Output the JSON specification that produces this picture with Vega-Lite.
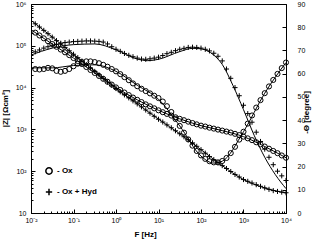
{
"$schema":"https://vega.github.io/schema/vega-lite/v6.json",
"width":255,"height":209,
"autosize":{"type":"none"},
"padding":{"left":31,"top":4,"right":26,"bottom":27},
"background":"white",
"config":{
 "view":{"stroke":"black","strokeWidth":1},
 "font":"Liberation Sans",
 "axis":{"grid":false,"domainColor":"black","domainWidth":1,"tickColor":"black","tickWidth":1,"tickSize":-4,"labelColor":"black","labelFont":"Liberation Sans","labelFontSize":7,"labelOverlap":false,"labelFlush":false,"titleFont":"Liberation Sans","titleFontSize":8,"titleFontWeight":"bold","titleColor":"black"}
},
"datasets":{
"zmark":[
{"g":"- Ox + Hyd","f":0.0126,"z":336000},{"g":"- Ox + Hyd","f":0.0158,"z":281000},{"g":"- Ox + Hyd","f":0.02,"z":234000},{"g":"- Ox + Hyd","f":0.0251,"z":195000},{"g":"- Ox + Hyd","f":0.0316,"z":161000},{"g":"- Ox + Hyd","f":0.0398,"z":133000},{"g":"- Ox + Hyd","f":0.0501,"z":110000},{"g":"- Ox + Hyd","f":0.0631,"z":91400},{"g":"- Ox + Hyd","f":0.0794,"z":75900},{"g":"- Ox + Hyd","f":0.1,"z":62800},
{"g":"- Ox + Hyd","f":0.126,"z":52000},{"g":"- Ox + Hyd","f":0.158,"z":43100},{"g":"- Ox + Hyd","f":0.2,"z":35600},{"g":"- Ox + Hyd","f":0.251,"z":29500},{"g":"- Ox + Hyd","f":0.316,"z":24400},{"g":"- Ox + Hyd","f":0.398,"z":20200},{"g":"- Ox + Hyd","f":0.501,"z":16600},{"g":"- Ox + Hyd","f":0.631,"z":13600},{"g":"- Ox + Hyd","f":0.794,"z":11400},{"g":"- Ox + Hyd","f":1,"z":9500},
{"g":"- Ox + Hyd","f":1.26,"z":7930},{"g":"- Ox + Hyd","f":1.58,"z":6700},{"g":"- Ox + Hyd","f":2,"z":5680},{"g":"- Ox + Hyd","f":2.51,"z":4810},{"g":"- Ox + Hyd","f":3.16,"z":4080},{"g":"- Ox + Hyd","f":3.98,"z":3460},{"g":"- Ox + Hyd","f":5.01,"z":2910},{"g":"- Ox + Hyd","f":6.31,"z":2450},{"g":"- Ox + Hyd","f":7.94,"z":2060},{"g":"- Ox + Hyd","f":10,"z":1750},
{"g":"- Ox + Hyd","f":12.6,"z":1500},{"g":"- Ox + Hyd","f":15.8,"z":1280},{"g":"- Ox + Hyd","f":20,"z":1094},{"g":"- Ox + Hyd","f":25.1,"z":927},{"g":"- Ox + Hyd","f":31.6,"z":787},{"g":"- Ox + Hyd","f":39.8,"z":667},{"g":"- Ox + Hyd","f":50.1,"z":566},{"g":"- Ox + Hyd","f":63.1,"z":476},{"g":"- Ox + Hyd","f":79.4,"z":394},{"g":"- Ox + Hyd","f":100,"z":327},
{"g":"- Ox + Hyd","f":126,"z":270},{"g":"- Ox + Hyd","f":158,"z":224},{"g":"- Ox + Hyd","f":200,"z":189},{"g":"- Ox + Hyd","f":251,"z":160},{"g":"- Ox + Hyd","f":316,"z":136},{"g":"- Ox + Hyd","f":398,"z":116},{"g":"- Ox + Hyd","f":501,"z":98.2},{"g":"- Ox + Hyd","f":631,"z":83.6},{"g":"- Ox + Hyd","f":794,"z":72.6},{"g":"- Ox + Hyd","f":1000,"z":63.1},
{"g":"- Ox + Hyd","f":1259,"z":57.3},{"g":"- Ox + Hyd","f":1585,"z":52.2},{"g":"- Ox + Hyd","f":1995,"z":47.6},{"g":"- Ox + Hyd","f":2512,"z":43.5},{"g":"- Ox + Hyd","f":3162,"z":39.8},{"g":"- Ox + Hyd","f":3981,"z":36.8},{"g":"- Ox + Hyd","f":5012,"z":34.3},{"g":"- Ox + Hyd","f":6310,"z":32.8},{"g":"- Ox + Hyd","f":7943,"z":31.6},{"g":"- Ox + Hyd","f":10000,"z":30.5},
{"g":"- Ox","f":0.0126,"z":206500},{"g":"- Ox","f":0.0158,"z":176600},{"g":"- Ox","f":0.02,"z":151000},{"g":"- Ox","f":0.0251,"z":129100},{"g":"- Ox","f":0.0316,"z":110400},{"g":"- Ox","f":0.0398,"z":94800},{"g":"- Ox","f":0.0501,"z":81300},{"g":"- Ox","f":0.0631,"z":69800},{"g":"- Ox","f":0.0794,"z":59800},{"g":"- Ox","f":0.1,"z":51000},
{"g":"- Ox","f":0.126,"z":43300},{"g":"- Ox","f":0.158,"z":36700},{"g":"- Ox","f":0.2,"z":31100},{"g":"- Ox","f":0.251,"z":26400},{"g":"- Ox","f":0.316,"z":22400},{"g":"- Ox","f":0.398,"z":19000},{"g":"- Ox","f":0.501,"z":16200},{"g":"- Ox","f":0.631,"z":13800},{"g":"- Ox","f":0.794,"z":11800},{"g":"- Ox","f":1,"z":10100},
{"g":"- Ox","f":1.26,"z":8780},{"g":"- Ox","f":1.58,"z":7620},{"g":"- Ox","f":2,"z":6610},{"g":"- Ox","f":2.51,"z":5780},{"g":"- Ox","f":3.16,"z":5100},{"g":"- Ox","f":3.98,"z":4500},{"g":"- Ox","f":5.01,"z":3970},{"g":"- Ox","f":6.31,"z":3560},{"g":"- Ox","f":7.94,"z":3190},{"g":"- Ox","f":10,"z":2860},
{"g":"- Ox","f":12.6,"z":2580},{"g":"- Ox","f":15.8,"z":2350},{"g":"- Ox","f":20,"z":2140},{"g":"- Ox","f":25.1,"z":1950},{"g":"- Ox","f":31.6,"z":1790},{"g":"- Ox","f":39.8,"z":1660},{"g":"- Ox","f":50.1,"z":1530},{"g":"- Ox","f":63.1,"z":1420},{"g":"- Ox","f":79.4,"z":1320},{"g":"- Ox","f":100,"z":1230},
{"g":"- Ox","f":126,"z":1170},{"g":"- Ox","f":158,"z":1100},{"g":"- Ox","f":200,"z":1045},{"g":"- Ox","f":251,"z":989},{"g":"- Ox","f":316,"z":937},{"g":"- Ox","f":398,"z":887},{"g":"- Ox","f":501,"z":841},{"g":"- Ox","f":631,"z":784},{"g":"- Ox","f":794,"z":731},{"g":"- Ox","f":1000,"z":671},
{"g":"- Ox","f":1259,"z":611},{"g":"- Ox","f":1585,"z":553},{"g":"- Ox","f":1995,"z":492},{"g":"- Ox","f":2512,"z":438},{"g":"- Ox","f":3162,"z":389},{"g":"- Ox","f":3981,"z":345},{"g":"- Ox","f":5012,"z":305},{"g":"- Ox","f":6310,"z":270},{"g":"- Ox","f":7943,"z":238},{"g":"- Ox","f":10000,"z":210}
],
"zfit":[
{"g":"- Ox + Hyd","f":0.01,"z":407000},{"g":"- Ox + Hyd","f":0.0316,"z":162000},{"g":"- Ox + Hyd","f":0.1,"z":63100},{"g":"- Ox + Hyd","f":0.316,"z":24500},{"g":"- Ox + Hyd","f":1,"z":9550},{"g":"- Ox + Hyd","f":3.16,"z":4070},{"g":"- Ox + Hyd","f":10,"z":1760},{"g":"- Ox + Hyd","f":31.6,"z":785},{"g":"- Ox + Hyd","f":100,"z":327},{"g":"- Ox + Hyd","f":316,"z":136},{"g":"- Ox + Hyd","f":1000,"z":63.1},{"g":"- Ox + Hyd","f":3162,"z":39.8},{"g":"- Ox + Hyd","f":10000,"z":30.2},
{"g":"- Ox","f":0.01,"z":243000},{"g":"- Ox","f":0.0316,"z":110000},{"g":"- Ox","f":0.1,"z":51000},{"g":"- Ox","f":0.316,"z":22400},{"g":"- Ox","f":1,"z":10100},{"g":"- Ox","f":3.16,"z":5100},{"g":"- Ox","f":10,"z":2860},{"g":"- Ox","f":31.6,"z":1790},{"g":"- Ox","f":100,"z":1230},{"g":"- Ox","f":316,"z":937},{"g":"- Ox","f":1000,"z":671},{"g":"- Ox","f":3162,"z":389},{"g":"- Ox","f":10000,"z":210}
],
"pmark":[
{"g":"- Ox + Hyd","f":0.0126,"p":69.4},{"g":"- Ox + Hyd","f":0.0158,"p":70.2},{"g":"- Ox + Hyd","f":0.02,"p":71.0},{"g":"- Ox + Hyd","f":0.0251,"p":71.6},{"g":"- Ox + Hyd","f":0.0316,"p":72.2},{"g":"- Ox + Hyd","f":0.0398,"p":72.7},{"g":"- Ox + Hyd","f":0.0501,"p":73.1},{"g":"- Ox + Hyd","f":0.0631,"p":73.4},{"g":"- Ox + Hyd","f":0.0794,"p":73.6},{"g":"- Ox + Hyd","f":0.1,"p":73.8},
{"g":"- Ox + Hyd","f":0.126,"p":73.9},{"g":"- Ox + Hyd","f":0.158,"p":74.0},{"g":"- Ox + Hyd","f":0.2,"p":74.1},{"g":"- Ox + Hyd","f":0.251,"p":74.1},{"g":"- Ox + Hyd","f":0.316,"p":74.0},{"g":"- Ox + Hyd","f":0.398,"p":73.9},{"g":"- Ox + Hyd","f":0.501,"p":73.6},{"g":"- Ox + Hyd","f":0.631,"p":72.8},{"g":"- Ox + Hyd","f":0.794,"p":71.6},{"g":"- Ox + Hyd","f":1,"p":70.5},
{"g":"- Ox + Hyd","f":1.26,"p":69.6},{"g":"- Ox + Hyd","f":1.58,"p":68.7},{"g":"- Ox + Hyd","f":2,"p":67.9},{"g":"- Ox + Hyd","f":2.51,"p":67.3},{"g":"- Ox + Hyd","f":3.16,"p":66.7},{"g":"- Ox + Hyd","f":3.98,"p":66.3},{"g":"- Ox + Hyd","f":5.01,"p":66.2},{"g":"- Ox + Hyd","f":6.31,"p":66.4},{"g":"- Ox + Hyd","f":7.94,"p":66.7},{"g":"- Ox + Hyd","f":10,"p":67.1},
{"g":"- Ox + Hyd","f":12.6,"p":67.8},{"g":"- Ox + Hyd","f":15.8,"p":68.6},{"g":"- Ox + Hyd","f":20,"p":69.2},{"g":"- Ox + Hyd","f":25.1,"p":69.9},{"g":"- Ox + Hyd","f":31.6,"p":70.5},{"g":"- Ox + Hyd","f":39.8,"p":70.9},{"g":"- Ox + Hyd","f":50.1,"p":71.3},{"g":"- Ox + Hyd","f":63.1,"p":71.4},{"g":"- Ox + Hyd","f":79.4,"p":71.3},{"g":"- Ox + Hyd","f":100,"p":71.0},
{"g":"- Ox + Hyd","f":126,"p":70.5},{"g":"- Ox + Hyd","f":158,"p":69.8},{"g":"- Ox + Hyd","f":200,"p":68.8},{"g":"- Ox + Hyd","f":251,"p":67.5},{"g":"- Ox + Hyd","f":316,"p":65.5},{"g":"- Ox + Hyd","f":398,"p":62.0},{"g":"- Ox + Hyd","f":501,"p":58.0},{"g":"- Ox + Hyd","f":631,"p":54.0},{"g":"- Ox + Hyd","f":794,"p":50.5},{"g":"- Ox + Hyd","f":1000,"p":46.4},
{"g":"- Ox + Hyd","f":1259,"p":42.8},{"g":"- Ox + Hyd","f":1585,"p":39.1},{"g":"- Ox + Hyd","f":1995,"p":34.8},{"g":"- Ox + Hyd","f":2512,"p":30.8},{"g":"- Ox + Hyd","f":3162,"p":27.5},{"g":"- Ox + Hyd","f":3981,"p":24.0},{"g":"- Ox + Hyd","f":5012,"p":20.8},{"g":"- Ox + Hyd","f":6310,"p":18.0},{"g":"- Ox + Hyd","f":7943,"p":16.0},{"g":"- Ox + Hyd","f":10000,"p":14.0},
{"g":"- Ox","f":0.0126,"p":62.0},{"g":"- Ox","f":0.0158,"p":61.8},{"g":"- Ox","f":0.02,"p":62.0},{"g":"- Ox","f":0.0251,"p":62.5},{"g":"- Ox","f":0.0316,"p":62.3},{"g":"- Ox","f":0.0398,"p":61.2},{"g":"- Ox","f":0.0501,"p":60.8},{"g":"- Ox","f":0.0631,"p":61.2},{"g":"- Ox","f":0.0794,"p":62.0},{"g":"- Ox","f":0.1,"p":63.2},
{"g":"- Ox","f":0.126,"p":64.3},{"g":"- Ox","f":0.158,"p":65.0},{"g":"- Ox","f":0.2,"p":65.3},{"g":"- Ox","f":0.251,"p":65.3},{"g":"- Ox","f":0.316,"p":65.0},{"g":"- Ox","f":0.398,"p":64.5},{"g":"- Ox","f":0.501,"p":63.8},{"g":"- Ox","f":0.631,"p":63.0},{"g":"- Ox","f":0.794,"p":62.0},{"g":"- Ox","f":1,"p":61.0},
{"g":"- Ox","f":1.26,"p":59.8},{"g":"- Ox","f":1.58,"p":58.5},{"g":"- Ox","f":2,"p":57.2},{"g":"- Ox","f":2.51,"p":55.8},{"g":"- Ox","f":3.16,"p":54.6},{"g":"- Ox","f":3.98,"p":53.5},{"g":"- Ox","f":5.01,"p":52.5},{"g":"- Ox","f":6.31,"p":51.5},{"g":"- Ox","f":7.94,"p":50.5},{"g":"- Ox","f":10,"p":49.5},
{"g":"- Ox","f":12.6,"p":48.0},{"g":"- Ox","f":15.8,"p":46.0},{"g":"- Ox","f":20,"p":43.5},{"g":"- Ox","f":25.1,"p":40.5},{"g":"- Ox","f":31.6,"p":37.5},{"g":"- Ox","f":39.8,"p":34.6},{"g":"- Ox","f":50.1,"p":31.7},{"g":"- Ox","f":63.1,"p":29.0},{"g":"- Ox","f":79.4,"p":26.7},{"g":"- Ox","f":100,"p":24.8},
{"g":"- Ox","f":126,"p":23.3},{"g":"- Ox","f":158,"p":22.3},{"g":"- Ox","f":200,"p":21.8},{"g":"- Ox","f":251,"p":21.8},{"g":"- Ox","f":316,"p":22.4},{"g":"- Ox","f":398,"p":23.7},{"g":"- Ox","f":501,"p":25.8},{"g":"- Ox","f":631,"p":28.5},{"g":"- Ox","f":794,"p":31.6},{"g":"- Ox","f":1000,"p":35.0},
{"g":"- Ox","f":1259,"p":38.5},{"g":"- Ox","f":1585,"p":42.0},{"g":"- Ox","f":1995,"p":45.4},{"g":"- Ox","f":2512,"p":48.6},{"g":"- Ox","f":3162,"p":51.6},{"g":"- Ox","f":3981,"p":54.5},{"g":"- Ox","f":5012,"p":57.3},{"g":"- Ox","f":6310,"p":59.9},{"g":"- Ox","f":7943,"p":62.4},{"g":"- Ox","f":10000,"p":64.8}
],
"pfit":[
{"g":"- Ox + Hyd","f":0.01,"p":68.0},{"g":"- Ox + Hyd","f":0.0316,"p":71.0},{"g":"- Ox + Hyd","f":0.1,"p":72.5},{"g":"- Ox + Hyd","f":0.316,"p":72.8},{"g":"- Ox + Hyd","f":1,"p":70.3},{"g":"- Ox + Hyd","f":3.16,"p":66.3},{"g":"- Ox + Hyd","f":5.62,"p":65.6},{"g":"- Ox + Hyd","f":10,"p":66.2},{"g":"- Ox + Hyd","f":31.6,"p":69.5},{"g":"- Ox + Hyd","f":63.1,"p":70.9},{"g":"- Ox + Hyd","f":100,"p":70.7},{"g":"- Ox + Hyd","f":200,"p":68.0},{"g":"- Ox + Hyd","f":316,"p":64.0},{"g":"- Ox + Hyd","f":562,"p":55.0},{"g":"- Ox + Hyd","f":1000,"p":44.5},{"g":"- Ox + Hyd","f":1778,"p":33.5},{"g":"- Ox + Hyd","f":3162,"p":24.0},{"g":"- Ox + Hyd","f":5623,"p":16.5},{"g":"- Ox + Hyd","f":10000,"p":10.5},
{"g":"- Ox","f":0.01,"p":62.5},{"g":"- Ox","f":0.0316,"p":62.5},{"g":"- Ox","f":0.1,"p":63.5},{"g":"- Ox","f":0.316,"p":63.8},{"g":"- Ox","f":1,"p":61.0},{"g":"- Ox","f":3.16,"p":55.0},{"g":"- Ox","f":10,"p":49.0},{"g":"- Ox","f":31.6,"p":37.5},{"g":"- Ox","f":100,"p":24.5},{"g":"- Ox","f":200,"p":21.5},{"g":"- Ox","f":316,"p":22.3},{"g":"- Ox","f":1000,"p":35.0},{"g":"- Ox","f":3162,"p":51.6},{"g":"- Ox","f":10000,"p":64.8}
]
},
"encoding":{
  "x":{"field":"f","type":"quantitative","scale":{"type":"log","domain":[0.01,10000],"nice":false},
   "axis":{"title":"F [Hz]","titleX":114,"titleY":21,"titleAlign":"center","titleBaseline":"middle","labelPadding":7,
    "values":[0.01,0.02,0.03,0.04,0.05,0.06,0.07,0.08,0.09,0.1,0.2,0.3,0.4,0.5,0.6,0.7,0.8,0.9,1,2,3,4,5,6,7,8,9,10,20,30,40,50,60,70,80,90,100,200,300,400,500,600,700,800,900,1000,2000,3000,4000,5000,6000,7000,8000,9000,10000],
    "labelExpr":"datum.value==0.01?'10⁻²':datum.value==0.1?'10⁻¹':datum.value==1?'10⁰':datum.value==10?'10¹':datum.value==100?'10²':datum.value==1000?'10³':datum.value==10000?'10⁴':''",
    "tickDash":{"condition":{"test":"indexof([0.01,0.1,1,10,100,1000,10000], datum.value) < 0","value":[2,10]},"value":[4,0]}}}
},
"layer":[
{"encoding":{
  "y":{"field":"z","type":"quantitative","scale":{"type":"log","domain":[10,1000000],"nice":false},
   "axis":{"orient":"left","title":"|Z| [Ωcm²]","titleX":-26,"titleY":104,"titleAngle":270,"titleAlign":"center","titleBaseline":"middle","labelPadding":9,
    "values":[10,20,30,40,50,60,70,80,90,100,200,300,400,500,600,700,800,900,1000,2000,3000,4000,5000,6000,7000,8000,9000,10000,20000,30000,40000,50000,60000,70000,80000,90000,100000,200000,300000,400000,500000,600000,700000,800000,900000,1000000],
    "labelExpr":"datum.value==10?'10':datum.value==100?'10²':datum.value==1000?'10³':datum.value==10000?'10⁴':datum.value==100000?'10⁵':datum.value==1000000?'10⁶':''",
    "tickDash":{"condition":{"test":"indexof([10,100,1000,10000,100000,1000000], datum.value) < 0","value":[2,10]},"value":[4,0]}}}
 },
 "layer":[
  {"data":{"name":"zmark"},"mark":{"type":"point","filled":false,"stroke":"black","strokeWidth":1,"opacity":1,"size":26},
   "encoding":{"shape":{"field":"g","type":"nominal","scale":{"domain":["- Ox","- Ox + Hyd"],"range":["circle","M-1,0H1M0,-1V1"]},
     "legend":{"orient":"none","legendX":14,"legendY":163,"title":null,"padding":0,"labelFont":"Liberation Sans","labelFontSize":8,"labelFontWeight":"bold","labelColor":"black","symbolStrokeColor":"black","symbolStrokeWidth":1.5,"symbolSize":40,"rowPadding":7,"labelOffset":4}}}},
  {"data":{"name":"zfit"},"mark":{"type":"line","color":"black","strokeWidth":1,"interpolate":"monotone"},"encoding":{"detail":{"field":"g"}}}
 ]},
{"encoding":{
  "y":{"field":"p","type":"quantitative","scale":{"domain":[0,90],"nice":false},
   "axis":{"orient":"right","title":"-Θ [degree]","titleX":20,"titleY":108,"titleAngle":270,"titleAlign":"center","titleBaseline":"middle","labelPadding":15,"values":[0,10,20,30,40,50,60,70,80,90]}}
 },
 "layer":[
  {"data":{"name":"pmark"},"mark":{"type":"point","filled":false,"stroke":"black","strokeWidth":1,"opacity":1,"size":26},
   "encoding":{"shape":{"field":"g","type":"nominal","scale":{"domain":["- Ox","- Ox + Hyd"],"range":["circle","M-1,0H1M0,-1V1"]},
     "legend":{"orient":"none","legendX":14,"legendY":163,"title":null,"padding":0,"labelFont":"Liberation Sans","labelFontSize":8,"labelFontWeight":"bold","labelColor":"black","symbolStrokeColor":"black","symbolStrokeWidth":1.5,"symbolSize":40,"rowPadding":7,"labelOffset":4}}}},
  {"data":{"name":"pfit"},"mark":{"type":"line","color":"black","strokeWidth":1,"interpolate":"monotone"},"encoding":{"detail":{"field":"g"}}}
 ]}
],
"resolve":{"scale":{"y":"independent"}}
}
